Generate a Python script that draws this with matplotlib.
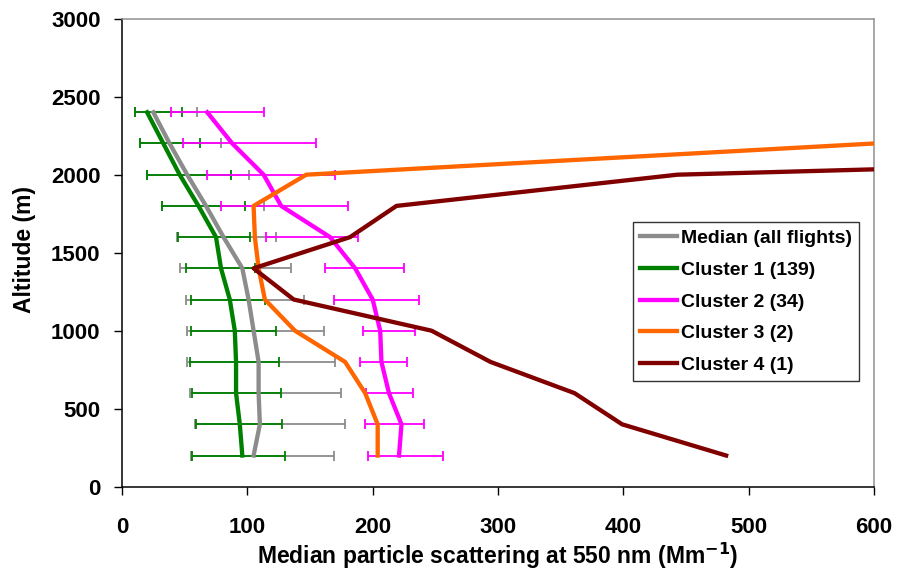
import matplotlib
matplotlib.use("Agg")
import matplotlib.pyplot as plt
import numpy as np

plt.rcParams['font.family'] = ['Liberation Sans', 'DejaVu Sans']
plt.rcParams['font.weight'] = 'bold'

altitude = [200, 400, 600, 800, 1000, 1200, 1400, 1600, 1800, 2000, 2200, 2400]

median_all = [105, 110, 109, 109, 105, 101, 96, 81, 67, 52, 38, 25]
median_lo = [55, 58, 54, 52, 52, 51, 46, 44, 32, 20, 14, 10]
median_hi = [169, 178, 175, 170, 161, 145, 135, 123, 113, 101, 79, 60]

cluster1 = [96, 94, 91, 91, 90, 86, 79, 75, 61, 46, 33, 20]
cluster1_lo = [56, 59, 56, 54, 55, 55, 51, 45, 32, 20, 14, 10]
cluster1_hi = [130, 128, 127, 125, 123, 114, 106, 102, 98, 87, 62, 48]

cluster2 = [221, 223, 213, 207, 206, 200, 186, 166, 127, 113, 88, 68]
cluster2_lo = [196, 194, 195, 190, 192, 169, 162, 115, 79, 68, 49, 39]
cluster2_hi = [256, 241, 232, 227, 234, 237, 225, 188, 180, 170, 155, 113]

cluster3_alt = [200, 400, 600, 800, 1000, 1200, 1400, 1600, 1800, 2000, 2200]
cluster3 = [204, 204, 194, 178, 138, 114, 109, 106, 105, 147, 600]

cluster4_alt = [200, 400, 600, 800, 1000, 1200, 1400, 1600, 1800, 2000, 2200]
cluster4 = [482, 399, 361, 294, 247, 137, 105, 182, 219, 443, 1358]

labels = ["Median (all flights)", "Cluster 1 (139)", "Cluster 2 (34)", "Cluster 3 (2)", "Cluster 4 (1)"]

c_med = '#8c8c8c'
c_c1 = '#008000'
c_c2 = '#ff00ff'
c_c3 = '#ff6600'
c_c4 = '#800000'

fig = plt.figure(figsize=(8.97, 5.82), dpi=100)
ax = fig.add_axes([0.136, 0.1637, 0.8384, 0.8042])

def ebar(x, lo, hi, color):
    x = np.array(x); lo = np.array(lo); hi = np.array(hi)
    ax.errorbar(x, altitude, xerr=[x - lo, hi - x], fmt='none', ecolor=color,
                elinewidth=1.3, capsize=3.6, capthick=1.3, zorder=2)

ebar(median_all, median_lo, median_hi, c_med)
ebar(cluster1, cluster1_lo, cluster1_hi, c_c1)
ebar(cluster2, cluster2_lo, cluster2_hi, c_c2)

lw = 3.1
ax.plot(median_all, altitude, color=c_med, lw=lw, label=labels[0], zorder=3)
ax.plot(cluster1, altitude, color=c_c1, lw=lw, label=labels[1], zorder=3)
ax.plot(cluster2, altitude, color=c_c2, lw=lw, label=labels[2], zorder=3)
ax.plot(cluster3, cluster3_alt, color=c_c3, lw=lw, label=labels[3], zorder=3)
ax.plot(cluster4, cluster4_alt, color=c_c4, lw=lw, label=labels[4], zorder=3)

ax.set_xlim(0, 600)
ax.set_ylim(0, 3000)
ax.set_xticks(np.arange(0, 601, 100))
ax.set_yticks(np.arange(0, 3001, 500))
ax.tick_params(axis='both', direction='out', length=5.5, width=1, labelsize=16)
ax.tick_params(axis='x', pad=16)
ax.tick_params(axis='y', pad=10)
for lab in ax.get_xticklabels() + ax.get_yticklabels():
    lab.set_fontweight('bold')

ax.spines['left'].set_color('black')
ax.spines['bottom'].set_color('black')
ax.spines['top'].set_color('#909090')
ax.spines['right'].set_color('#909090')
for s in ax.spines.values():
    s.set_linewidth(1.1)

ax.set_xlabel("Median particle scattering at 550 nm (Mm$^{\\mathbf{-1}}$)", fontsize=16.5, fontweight='bold')
ax.xaxis.set_label_coords(0.5, -0.116)
ax.set_ylabel("Altitude (m)", fontsize=16.5, fontweight='bold')
ax.yaxis.set_label_coords(-0.114, 0.506)

leg = ax.legend(loc='upper left', bbox_to_anchor=(0.6795, 0.565), frameon=True,
                fancybox=False, edgecolor='black', handlelength=1.9, handletextpad=0.18,
                labelspacing=0.72, borderpad=0.38, borderaxespad=0.0,
                prop={'weight': 'bold', 'size': 14})
leg.get_frame().set_linewidth(1.0)

fig.savefig("out.png", dpi=100)
